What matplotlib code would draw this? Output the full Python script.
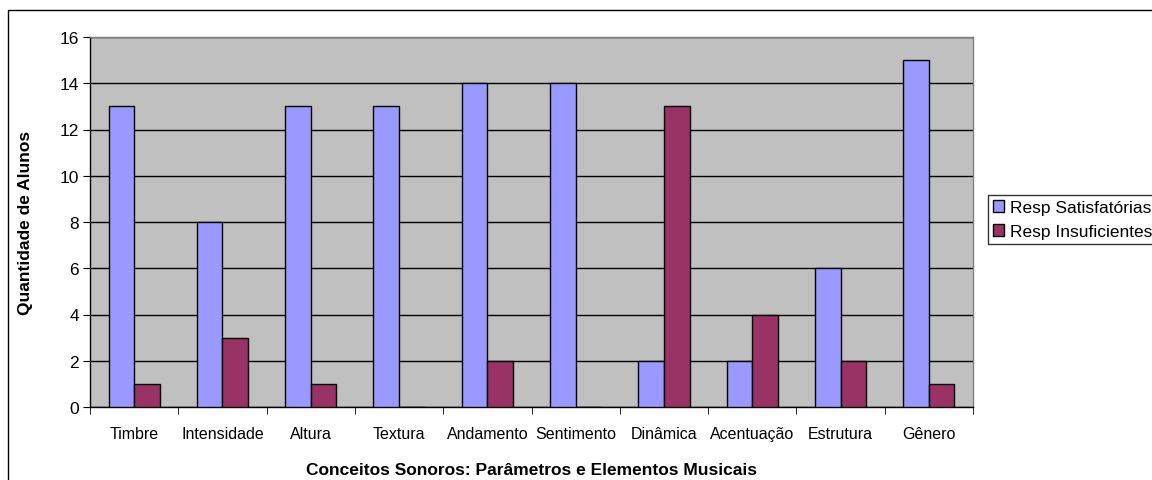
import matplotlib
matplotlib.use('Agg')
import matplotlib.pyplot as plt
from matplotlib.patches import Rectangle
import numpy as np

plt.rcParams['font.family'] = ['Liberation Sans', 'DejaVu Sans']

categorias = ['Timbre', 'Intensidade', 'Altura', 'Textura', 'Andamento',
              'Sentimento', 'Dinâmica', 'Acentuação', 'Estrutura', 'Gênero']
satisfatorias = [13, 8, 13, 13, 14, 14, 2, 2, 6, 15]
insuficientes = [1, 3, 1, 0, 2, 0, 13, 4, 2, 1]
series_nomes = ['Resp Satisfatórias', 'Resp Insuficientes']

W, H = 1152, 481
fig = plt.figure(figsize=(W / 100, H / 100), dpi=100)

# borda externa do grafico (so esquerda e topo aparecem)
fig.patches.append(Rectangle((8 / W, -0.1), 1.2, 1.1 - 11 / H,
                             transform=fig.transFigure, fill=False,
                             edgecolor='black', linewidth=1.0))

ax = fig.add_axes([90 / W, (H - 408) / H, 883 / W, 370 / H])
ax.set_facecolor('#C0C0C0')

x = np.arange(len(categorias))
w = 0.29
b1 = ax.bar(x - w / 2, satisfatorias, w, color='#9999FF', edgecolor='black',
            linewidth=1.0, label=series_nomes[0], zorder=3)
b2 = ax.bar(x + w / 2, insuficientes, w, color='#993366', edgecolor='black',
            linewidth=1.0, label=series_nomes[1], zorder=3)

ax.set_xlim(-0.5, len(categorias) - 0.5)
ax.set_ylim(0, 16)
ax.set_yticks(range(0, 17, 2))
ax.yaxis.grid(True, color='black', linewidth=1.0, zorder=1)
ax.set_axisbelow(True)

ax.set_xticks(x)
ax.set_xticklabels(categorias, fontsize=11.5)
ax.tick_params(axis='x', which='major', length=0, pad=14)
ax.set_xticks(np.arange(len(categorias) + 1) - 0.5, minor=True)
ax.tick_params(axis='x', which='minor', length=5, direction='out', color='black')
ax.tick_params(axis='y', length=5, direction='out', labelsize=12.5, pad=3)

for s in ['top', 'right']:
    ax.spines[s].set_color('#808080')
    ax.spines[s].set_linewidth(1.0)
for s in ['left', 'bottom']:
    ax.spines[s].set_color('black')
    ax.spines[s].set_linewidth(1.0)

ax.set_ylabel('Quantidade de Alunos', fontsize=12.5, fontweight='bold')
ax.yaxis.set_label_coords((33 - 90) / 883, 0.5)
ax.set_xlabel('Conceitos Sonoros: Parâmetros e Elementos Musicais',
              fontsize=12.5, fontweight='bold')
ax.xaxis.set_label_coords(0.5, -(463 - 408) / 370)

leg = fig.legend(handles=[b1, b2], loc='upper left',
                 bbox_to_anchor=(988 / W, 1 - 196 / H), fontsize=12.5,
                 frameon=True, fancybox=False, shadow=False,
                 handlelength=0.65, handleheight=0.65, handletextpad=0.3,
                 borderpad=0.3, labelspacing=0.5, borderaxespad=0)
leg.get_frame().set_edgecolor('black')
leg.get_frame().set_linewidth(1.0)

fig.savefig('out.png', dpi=100)
